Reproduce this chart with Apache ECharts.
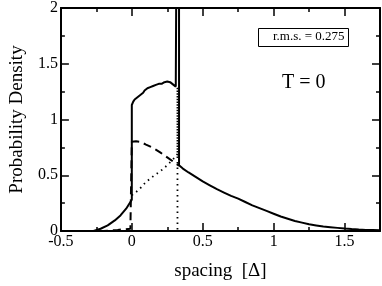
<!DOCTYPE html>
<html><head><meta charset="utf-8">
<script src="https://cdn.jsdelivr.net/npm/echarts@6/dist/echarts.min.js"></script>
<style>html,body{margin:0;padding:0;background:#fff}#c{width:382px;height:286px}</style>
</head><body><div id="c"></div>
<script>
// Solid curve (total density)
const solidX = [-0.5,-0.27,-0.22,-0.17,-0.12,-0.08,-0.04,0,
  0,0.01,0.02,0.03,0.04,0.05,0.06,0.07,0.08,0.09,0.10,0.11,0.12,0.13,0.14,0.15,0.16,0.17,0.18,0.19,0.20,0.21,0.22,0.23,0.24,0.25,0.26,0.27,0.28,0.29,0.30,0.31,0.315,
  0.315,0.333,0.333,
  0.36,0.4,0.45,0.5,0.55,0.6,0.65,0.7,0.75,0.8,0.85,0.9,0.95,1.0,1.05,1.1,1.15,1.2,1.25,1.3,1.35,1.4,1.45,1.5,1.55,1.6,1.65,1.7,1.75];
const solidY = [0,0,0.02,0.05,0.095,0.14,0.2,0.28,
  1.13,1.16,1.18,1.19,1.20,1.20,1.22,1.23,1.24,1.26,1.265,1.28,1.285,1.29,1.30,1.30,1.31,1.31,1.315,1.32,1.325,1.32,1.33,1.335,1.33,1.34,1.325,1.335,1.32,1.315,1.30,1.295,1.29,
  2.6,2.6,0.59,
  0.56,0.525,0.485,0.445,0.41,0.375,0.345,0.315,0.29,0.26,0.23,0.205,0.18,0.155,0.13,0.11,0.09,0.075,0.06,0.05,0.04,0.034,0.028,0.022,0.017,0.013,0.01,0.008,0.006];
// Dashed curve
const dashX = [-0.5,-0.2,-0.1,-0.01,0,0,0.03,0.06,0.1,0.15,0.2,0.25,0.3,0.333];
const dashY = [0,0,0.01,0.02,0.02,0.80,0.805,0.80,0.775,0.745,0.705,0.66,0.615,0.585];
// Dotted curve
const dotX = [0,0.05,0.1,0.15,0.2,0.25,0.3,0.322,0.322,0.322];
const dotY = [0.32,0.37,0.44,0.49,0.535,0.59,0.655,0.69,1.29,0];
// Axis ticks
const xTicks = [-0.5,0,0.5,1,1.5];
const yTicks = [0,0.5,1,1.5,2];

const pairs = (xs, ys) => xs.map((x, i) => [x, ys[i]]);
const FONT = 'Liberation Serif';
const fmt = v => String(v);

const chart = echarts.init(document.getElementById('c'), null, {renderer: 'canvas'});
const xBase = {type:'value', min:-0.5, max:1.75, interval:0.5};
const yBase = {type:'value', min:0, max:2, interval:0.5};
const line2 = {show:true, onZero:false, lineStyle:{color:'#000', width:2}};
const noLine = {show:false, onZero:false};
chart.setOption({
  animation: false,
  grid: {left:49, right:2, top:6, bottom:50, containLabel:false},
  xAxis: [
    Object.assign({}, xBase, {position:'bottom',
      axisLine:line2,
      axisTick:{show:true, inside:true, length:8, lineStyle:{color:'#000', width:1.5}},
      axisLabel:{show:true, margin:3, color:'#000', fontFamily:FONT, fontSize:16, showMaxLabel:false, formatter:fmt},
      splitLine:{show:false},
      name:'spacing  [Δ]', nameLocation:'middle', nameGap:31,
      nameTextStyle:{color:'#000', fontFamily:FONT, fontSize:19}}),
    Object.assign({}, xBase, {interval:0.25, position:'bottom',
      axisLine:noLine, axisTick:{show:true, inside:true, length:4, lineStyle:{color:'#000', width:1.5}},
      axisLabel:{show:false}, splitLine:{show:false}}),
    Object.assign({}, xBase, {position:'top',
      axisLine:line2,
      axisTick:{show:true, inside:true, length:8, lineStyle:{color:'#000', width:1.5}},
      axisLabel:{show:false}, splitLine:{show:false}}),
    Object.assign({}, xBase, {interval:0.25, position:'top',
      axisLine:noLine, axisTick:{show:true, inside:true, length:4, lineStyle:{color:'#000', width:1.5}},
      axisLabel:{show:false}, splitLine:{show:false}})
  ],
  yAxis: [
    Object.assign({}, yBase, {position:'left',
      axisLine:line2,
      axisTick:{show:true, inside:true, length:8, lineStyle:{color:'#000', width:1.5}},
      minorTick:{show:true, splitNumber:2, length:4, lineStyle:{color:'#000', width:1.5}},
      axisLabel:{show:true, margin:3, color:'#000', fontFamily:FONT, fontSize:16, formatter:fmt},
      splitLine:{show:false}, minorSplitLine:{show:false},
      name:'Probability Density', nameLocation:'middle', nameGap:22,
      nameTextStyle:{color:'#000', fontFamily:FONT, fontSize:19}}),
    Object.assign({}, yBase, {position:'right',
      axisLine:line2,
      axisTick:{show:true, inside:true, length:8, lineStyle:{color:'#000', width:1.5}},
      minorTick:{show:true, splitNumber:2, length:4, lineStyle:{color:'#000', width:1.5}},
      axisLabel:{show:false}, splitLine:{show:false}, minorSplitLine:{show:false}})
  ],
  series: [
    {type:'line', name:'dotted', data:pairs(dotX, dotY), showSymbol:false, symbol:'none',
      lineStyle:{color:'#000', width:1.8, type:[1.5,4]}, z:2},
    {type:'line', name:'dashed', data:pairs(dashX, dashY), showSymbol:false, symbol:'none',
      lineStyle:{color:'#000', width:2, type:[8,5]}, z:3},
    {type:'line', name:'solid', data:pairs(solidX, solidY), showSymbol:false, symbol:'none',
      lineStyle:{color:'#000', width:2}, z:4}
  ],
  graphic: [
    {type:'rect', left:258, top:28, shape:{width:90, height:18}, style:{fill:'#fff', stroke:'#000', lineWidth:1}, z:10},
    {type:'text', left:273, top:30, style:{text:'r.m.s. = 0.275', fill:'#000', fontFamily:FONT, fontSize:13}, z:11},
    {type:'text', left:282, top:73, style:{text:'T = 0', fill:'#000', fontFamily:FONT, fontSize:20}, z:11}
  ]
});
</script></body></html>
